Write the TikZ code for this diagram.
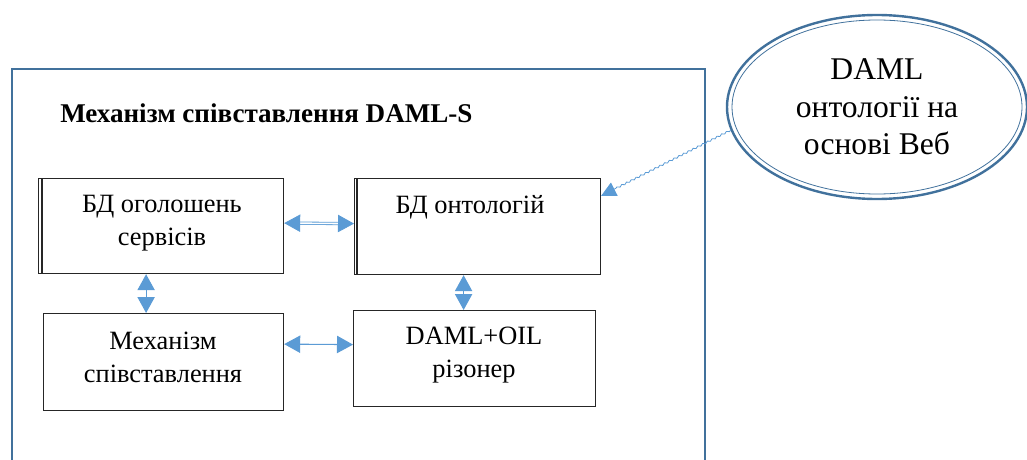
\documentclass[tikz,border=0pt]{standalone}
\usepackage{fontspec}
\setmainfont{Liberation Serif}
\usetikzlibrary{positioning,calc,arrows.meta,shapes.geometric,decorations.pathmorphing}
\definecolor{frameblue}{RGB}{65,113,156}
\definecolor{arrowblue}{RGB}{91,155,213}
\tikzset{
  dbbox/.style={draw=black!85, line width=0.9pt, anchor=north west, inner sep=0pt},
  boxtext/.style={align=center, inner sep=0pt, anchor=base, font=\fontsize{19.8}{24.5}\selectfont},
  biarrow/.style={draw=arrowblue, line width=0.8pt, {Triangle[length=12pt,width=13pt]}-{Triangle[length=12pt,width=13pt]}},
}

\begin{document}
\begin{tikzpicture}[x=0.75pt,y=0.75pt,yscale=-1,xscale=1]
\useasboundingbox (0,0) rectangle (1027,460);

%Outer frame
\draw [frameblue, line width=1.5pt] (12,460) -- (12,69) -- (705,69) -- (705,460);
% Title
\node [anchor=base west, inner sep=0pt, font=\bfseries\fontsize{20.3}{24}\selectfont] (title) at (60,122) {Механізм співставлення DAML-S};

%Boxes
\node [dbbox, minimum width=183.75pt, minimum height=71.25pt] (ann) at (38,178) {};
\draw [black!85, line width=0.9pt] ($(ann.north west)+(4,0)$) -- ($(ann.south west)+(4,0)$);
\node [dbbox, minimum width=184.5pt, minimum height=72pt] (ont) at (354,178) {};
\draw [black!85, line width=0.9pt] ($(ont.north west)+(3,0)$) -- ($(ont.south west)+(3,0)$);
\node [dbbox, minimum width=180pt, minimum height=72.75pt] (match) at (43,313) {};
\node [dbbox, minimum width=181.5pt, minimum height=72pt] (reas) at (353,310) {};

% Box texts (base = last line)
\node [boxtext] (annt) at (162,245) {БД оголошень\\сервісів};
\node [boxtext] (ontt) at (470,213) {БД онтологій};
\node [boxtext] (matcht) at (163,382) {Механізм\\співставлення};
\node [boxtext] (reast) at (474,377) {DAML+OIL\\різонер};

%Ellipse
\node [ellipse, draw=frameblue, line width=1.8pt, minimum width=225pt, minimum height=138pt, align=center, font=\fontsize{23.7}{28}\selectfont] (web) at (877,107) {DAML\\онтології на\\основі Веб};
\draw [frameblue, line width=0.6pt] (web.center) ellipse [x radius=145, y radius=87];

%Connectors
\coordinate (annout) at ($(ann.south)+(-15,0)$);
\coordinate (ontout) at ($(ont.south)+(-14,0)$);
\draw [biarrow, double=white, double distance=1.2pt, line width=0.6pt] ($(ann.east)+(0,-3)$) -- ($(ont.west)+(0,-3)$);
\draw [biarrow] (annout) -- (annout |- match.north);
\draw [biarrow] (ontout) -- (ontout |- reas.north);
\draw [biarrow] ($(match.east)+(0,-18)$) -- ($(reas.west)+(0,-14)$);
\draw [draw=arrowblue, line width=0.6pt, -{Triangle[length=11pt,width=11pt]}, decorate, decoration={snake, amplitude=0.6pt, segment length=4pt, post length=12pt}] (web.189) -- (ont.14);

\end{tikzpicture}
\end{document}
